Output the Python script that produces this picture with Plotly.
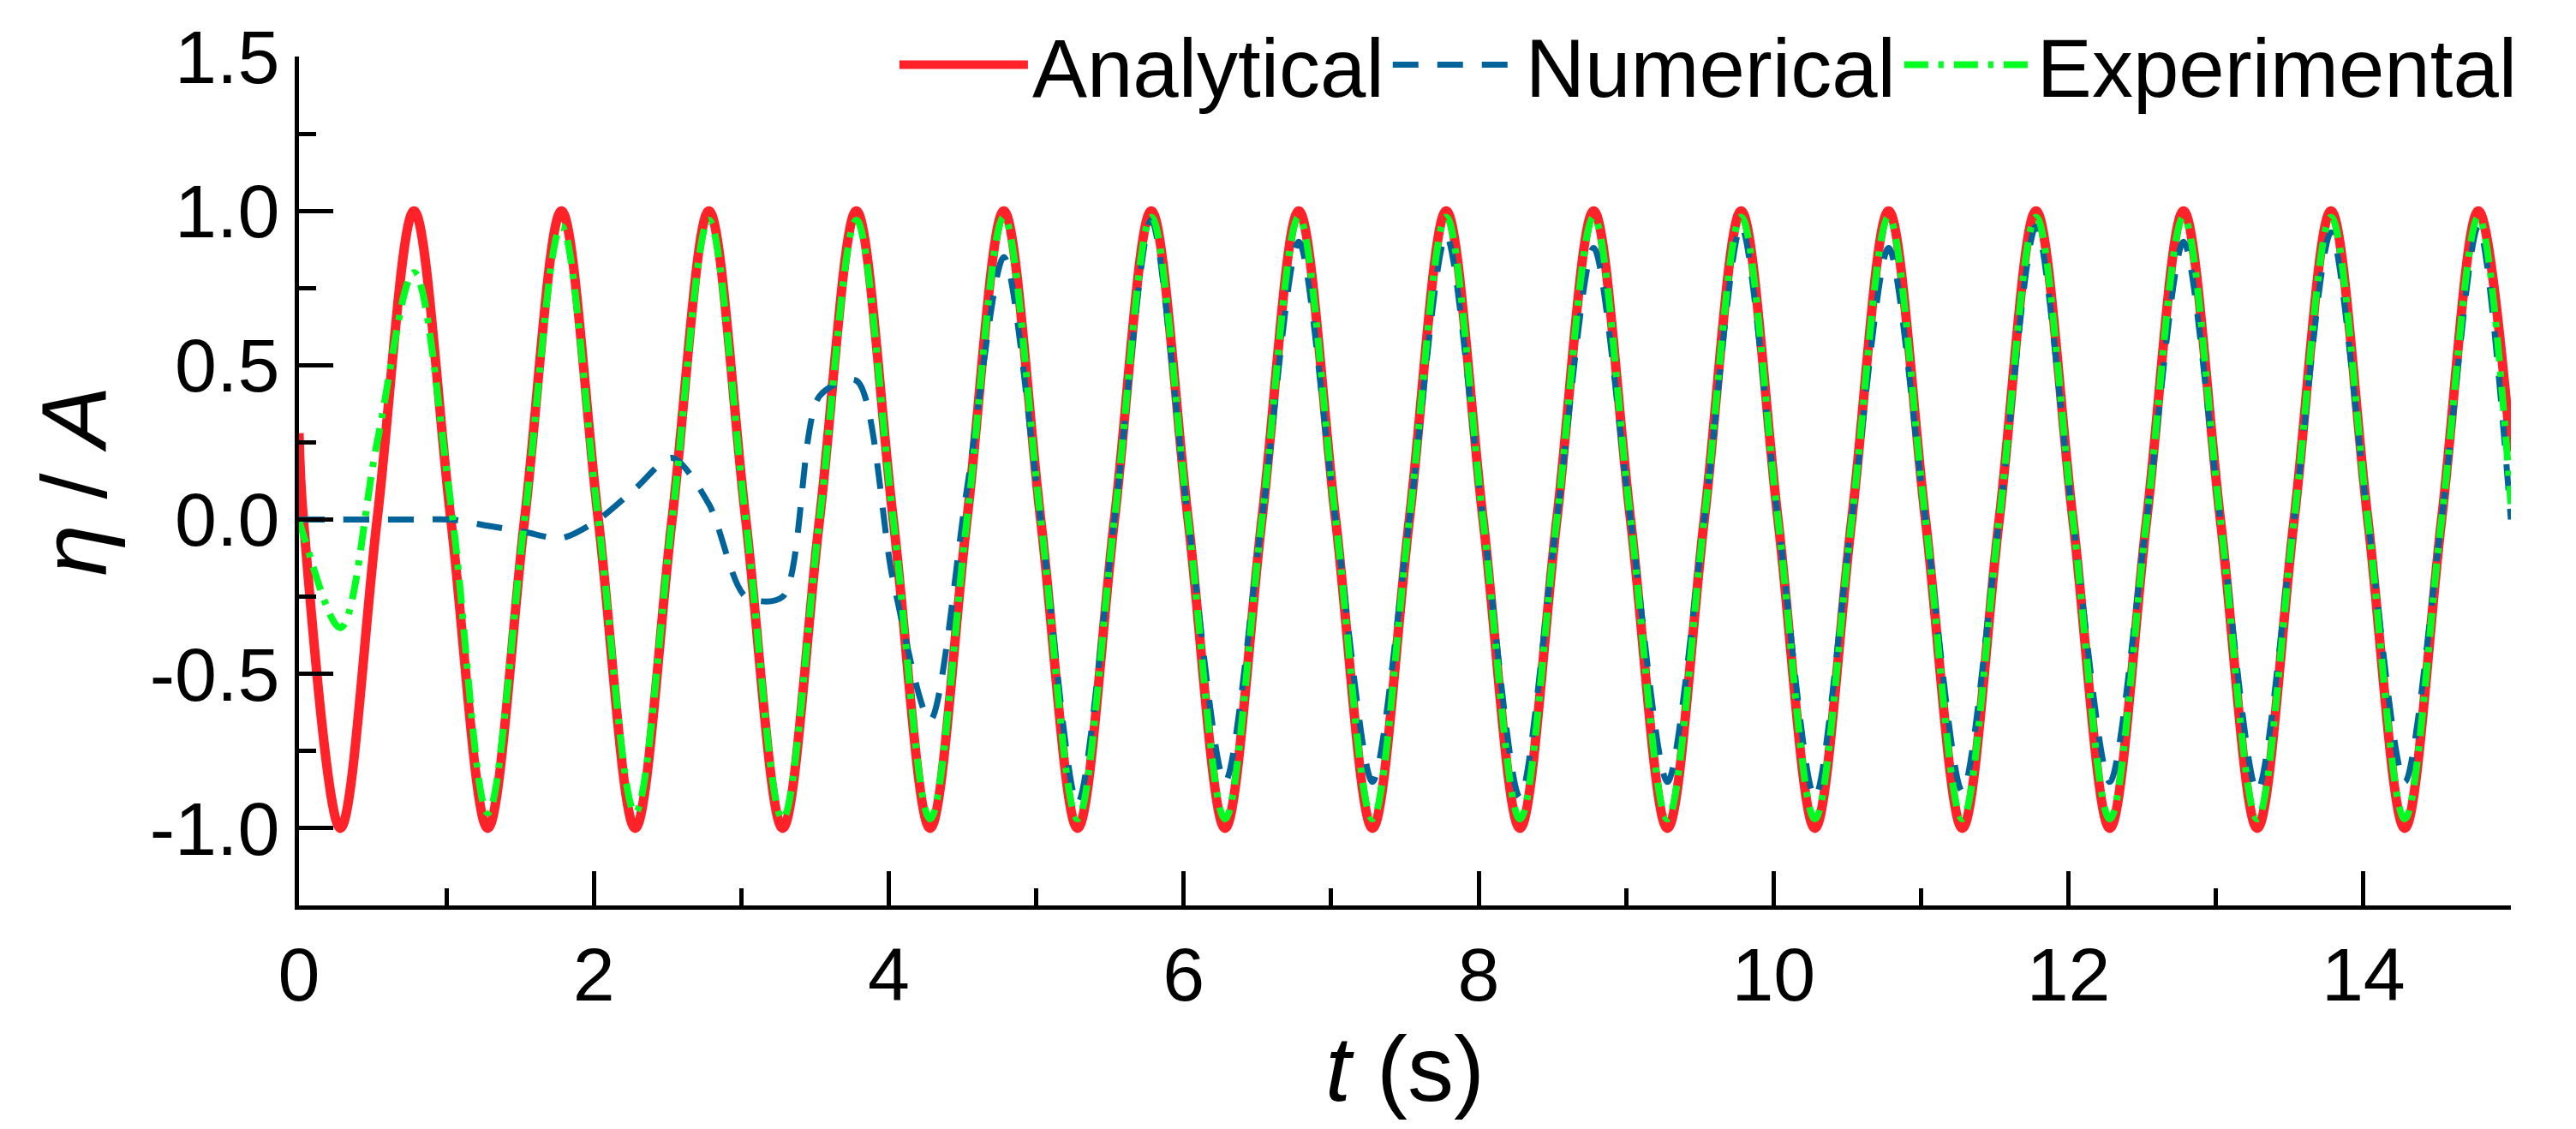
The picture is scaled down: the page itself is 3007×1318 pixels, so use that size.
import plotly.graph_objects as go

# time grid (s): start, quarter-period points, end
t = [0, 0.03, 0.28, 0.53, 0.78, 1.03, 1.28, 1.53, 1.78, 2.03, 2.28, 2.53, 2.78,
     3.03, 3.28, 3.53, 3.78, 4.03, 4.28, 4.53, 4.78, 5.03, 5.28, 5.53, 5.78,
     6.03, 6.28, 6.53, 6.78, 7.03, 7.28, 7.53, 7.78, 8.03, 8.28, 8.53, 8.78,
     9.03, 9.28, 9.53, 9.78, 10.03, 10.28, 10.53, 10.78, 11.03, 11.28, 11.53, 11.78,
     12.03, 12.28, 12.53, 12.78, 13.03, 13.28, 13.53, 13.78, 14.03, 14.28, 14.53, 14.78, 15.0]

analytical = [0.28, 0, -1, 0, 1, 0, -1, 0, 1, 0, -1, 0, 1,
              0, -1, 0, 1, 0, -1, 0, 1, 0, -1, 0, 1,
              0, -1, 0, 1, 0, -1, 0, 1, 0, -1, 0, 1,
              0, -1, 0, 1, 0, -1, 0, 1, 0, -1, 0, 1,
              0, -1, 0, 1, 0, -1, 0, 1, 0, -1, 0, 1, 0.22]

numerical = [0, 0, 0, 0, 0, 0, -0.02, -0.04, -0.06, 0.0, 0.1, 0.2, 0.05,
             -0.25, -0.25, 0.4, 0.45, -0.2, -0.65, 0.1, 0.85, 0.0, -0.92, 0, 0.97,
             0, -0.85, 0, 0.9, 0, -0.85, 0, 0.92, 0, -0.9, 0, 0.88,
             0, -0.85, 0, 0.95, 0, -0.9, 0, 0.88, 0, -0.88, 0, 0.95,
             0, -0.85, 0, 0.9, 0, -0.88, 0, 0.93, 0, -0.85, 0, 0.95, 0.0]

experimental = [0, -0.05, -0.35, 0.25, 0.8, 0.05, -0.95, 0, 0.95, 0, -0.95, 0, 0.97,
                0, -0.97, 0, 0.97, 0, -0.97, 0, 0.98, 0, -0.97, 0, 0.98,
                0, -0.97, 0, 0.98, 0, -0.97, 0, 0.98, 0, -0.97, 0, 0.98,
                0, -0.97, 0, 0.98, 0, -0.97, 0, 0.98, 0, -0.97, 0, 0.98,
                0, -0.97, 0, 0.98, 0, -0.97, 0, 0.98, 0, -0.97, 0, 0.98, 0.05]

y_ticks = [-1.0, -0.5, 0.0, 0.5, 1.0, 1.5]
y_labels = ['-1.0', '-0.5', '0.0', '0.5', '1.0', '1.5']

fig = go.Figure()
fig.add_trace(go.Scatter(x=t, y=analytical, name='Analytical', mode='lines',
                         line=dict(color='#FF2228', width=11, shape='spline', smoothing=1.0)))
fig.add_trace(go.Scatter(x=t, y=numerical, name='Numerical', mode='lines',
                         line=dict(color='#00649B', width=7, dash='30px,22px', shape='spline', smoothing=0.8)))
fig.add_trace(go.Scatter(x=t, y=experimental, name='Experimental', mode='lines',
                         line=dict(color='#00FF21', width=8, dash='28px,12px,6px,12px', shape='spline', smoothing=1.0)))

fig.update_layout(
    width=3007, height=1318,
    margin=dict(l=341, r=84, t=58, b=269, autoexpand=False),
    plot_bgcolor='white', paper_bgcolor='white',
    font=dict(family='Liberation Sans, Arial', size=88, color='black'),
    legend=dict(orientation='h', x=1.005, xanchor='right', y=1.06, yanchor='top',
                font=dict(size=96), bgcolor='rgba(0,0,0,0)', itemwidth=150),
    xaxis=dict(range=[0, 15], dtick=2, tick0=0, showgrid=False, zeroline=False,
               showline=True, linecolor='black', linewidth=5,
               ticks='inside', ticklen=40, tickwidth=5, tickcolor='black',
               minor=dict(dtick=1, ticks='inside', ticklen=20, tickwidth=5, tickcolor='black'),
               title=dict(text='<i>t</i> (s)', font=dict(size=108), standoff=5)),
    yaxis=dict(range=[-1.25, 1.5], tickvals=y_ticks, ticktext=y_labels, showgrid=False, zeroline=False,
               showline=True, linecolor='black', linewidth=5,
               ticks='inside', ticklen=40, tickwidth=5, tickcolor='black',
               minor=dict(dtick=0.25, ticks='inside', ticklen=20, tickwidth=5, tickcolor='black'),
               title=dict(text='<i>η</i> / <i>A</i>', font=dict(size=108), standoff=15)),
)
fig.write_html("out.html")
